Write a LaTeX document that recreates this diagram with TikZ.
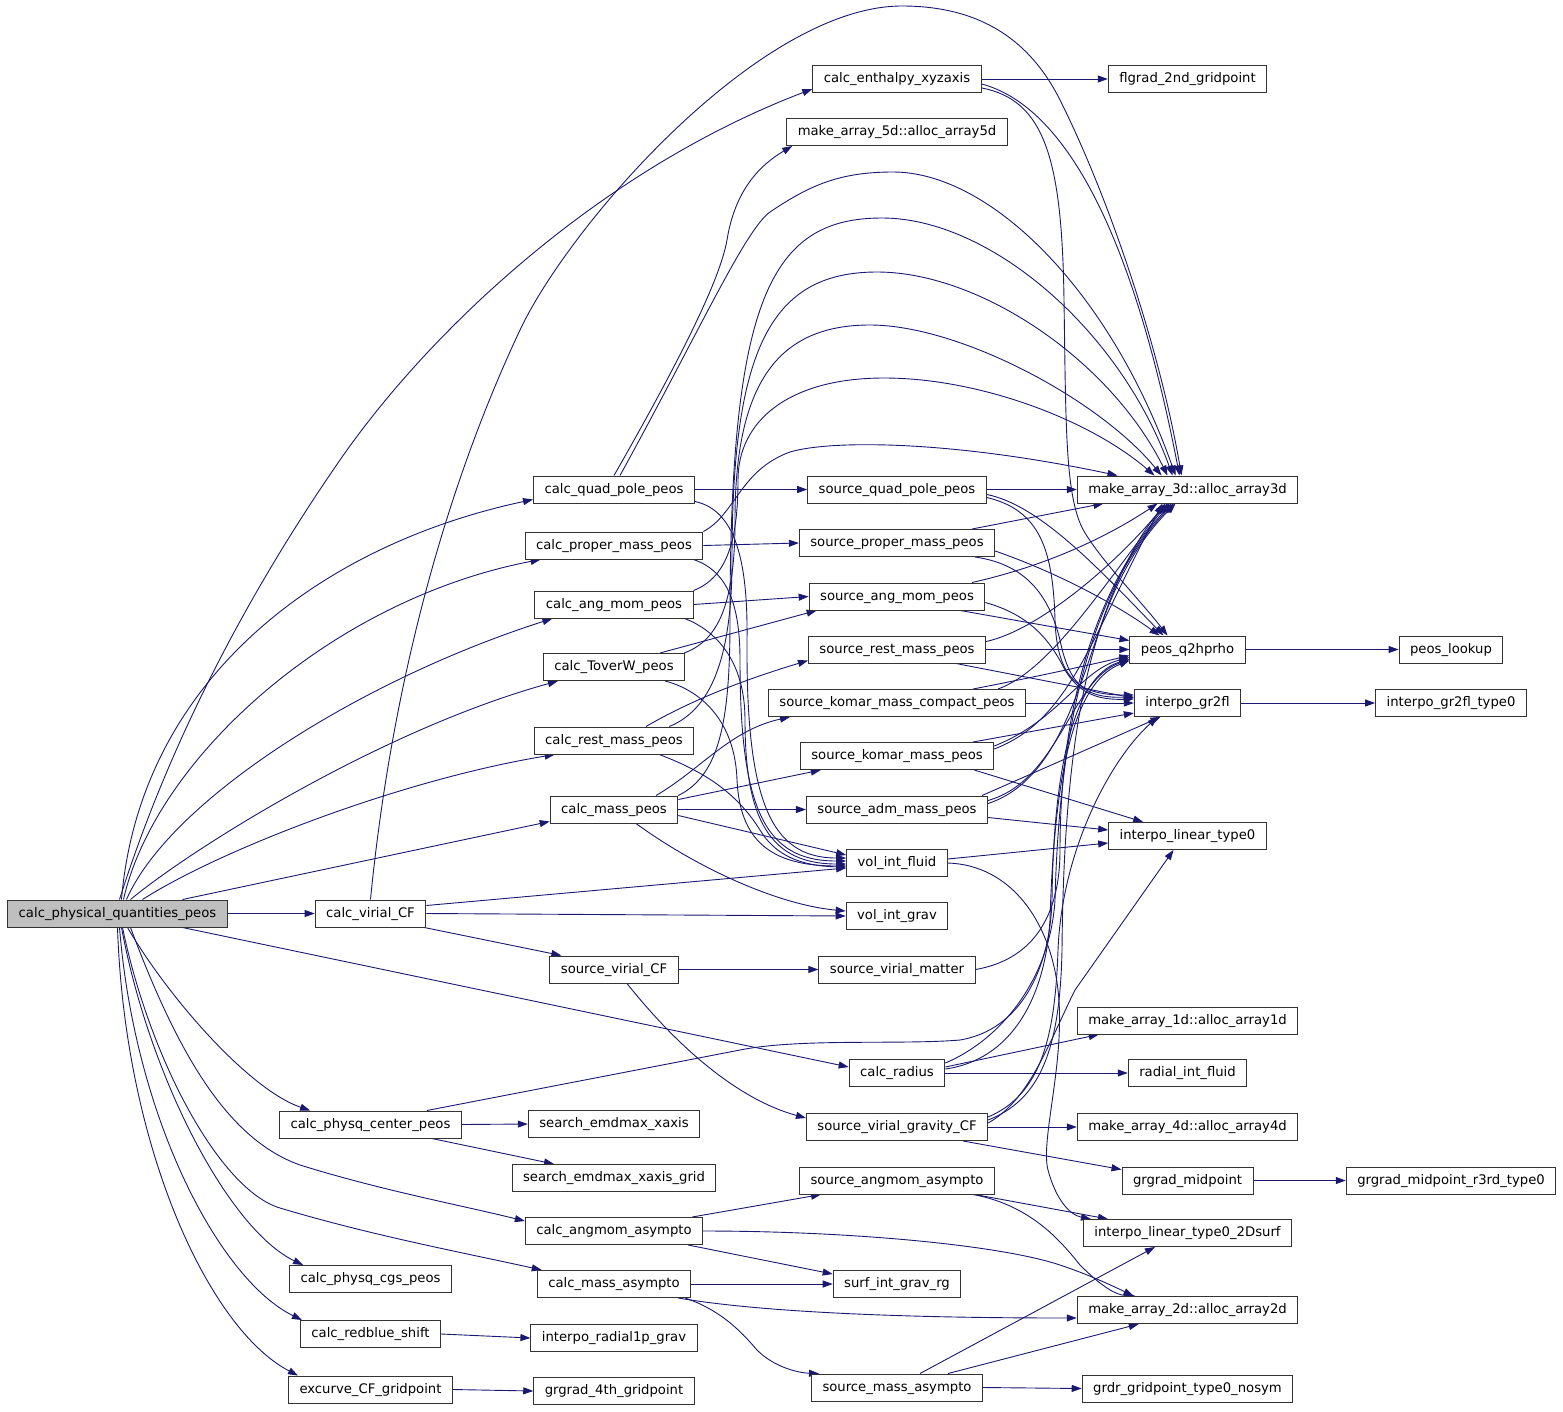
\documentclass[tikz,border=0pt]{standalone}
\usepackage{fontspec}
\setmainfont{DejaVu Sans}
\usetikzlibrary{arrows.meta,calc,backgrounds}
\definecolor{edgec}{HTML}{191970}
\definecolor{boxc}{HTML}{333333}
\definecolor{rootc}{HTML}{BFBFBF}
\begin{document}
\begin{tikzpicture}[x=1pt,y=-1pt,
  fn/.style={draw=boxc, fill=white, line width=1pt, minimum height=27pt, inner xsep=11pt, inner ysep=0pt,
    font=\fontsize{13.2}{15}\selectfont, text height=10pt, text depth=3pt},
  rootn/.style={fn, fill=rootc},
  e/.style={draw=edgec, line width=0.9pt, -{Triangle[length=10pt,width=7pt]}}]
\useasboundingbox (0,0) rectangle (1563,1411);
% column 1
\node[rootn] (root) at (117.5,913.5) {calc\_physical\_quantities\_peos};
% column 2
\node[fn] (virial) at (370.5,913.5) {calc\_virial\_CF};
\node[fn] (physq) at (370.5,1124.5) {calc\_physq\_center\_peos};
\node[fn] (cgs) at (370.5,1279) {calc\_physq\_cgs\_peos};
\node[fn] (redblue) at (370.5,1334) {calc\_redblue\_shift};
\node[fn] (excurve) at (370.5,1389.5) {excurve\_CF\_gridpoint};
% column 3
\node[fn] (quad) at (614,489.5) {calc\_quad\_pole\_peos};
\node[fn] (proper) at (614,545.5) {calc\_proper\_mass\_peos};
\node[fn] (angmom) at (614,604.5) {calc\_ang\_mom\_peos};
\node[fn] (toverw) at (614,667) {calc\_ToverW\_peos};
\node[fn] (rest) at (614,740.5) {calc\_rest\_mass\_peos};
\node[fn] (cmass) at (614,809.5) {calc\_mass\_peos};
\node[fn] (svcf) at (614,969.5) {source\_virial\_CF};
\node[fn] (sex) at (614,1124) {search\_emdmax\_xaxis};
\node[fn] (sexg) at (614,1178) {search\_emdmax\_xaxis\_grid};
\node[fn] (amA) at (614,1231) {calc\_angmom\_asympto};
\node[fn] (mA) at (614,1284) {calc\_mass\_asympto};
\node[fn] (rad1p) at (614,1338) {interpo\_radial1p\_grav};
\node[fn] (gg4) at (614,1391) {grgrad\_4th\_gridpoint};
% column 4
\node[fn] (enth) at (897,79) {calc\_enthalpy\_xyzaxis};
\node[fn] (a5d) at (897,132) {make\_array\_5d::alloc\_array5d};
\node[fn] (squad) at (897,489.5) {source\_quad\_pole\_peos};
\node[fn] (sproper) at (897,543) {source\_proper\_mass\_peos};
\node[fn] (sang) at (897,596.5) {source\_ang\_mom\_peos};
\node[fn] (srest) at (897,649.5) {source\_rest\_mass\_peos};
\node[fn] (skc) at (897,703) {source\_komar\_mass\_compact\_peos};
\node[fn] (sk) at (897,756) {source\_komar\_mass\_peos};
\node[fn] (sadm) at (897,809.5) {source\_adm\_mass\_peos};
\node[fn] (volf) at (897,863) {vol\_int\_fluid};
\node[fn] (volg) at (897,916) {vol\_int\_grav};
\node[fn] (svm) at (897,969.5) {source\_virial\_matter};
\node[fn] (radius) at (897,1073) {calc\_radius};
\node[fn] (svg) at (897,1127) {source\_virial\_gravity\_CF};
\node[fn] (saa) at (897,1180.5) {source\_angmom\_asympto};
\node[fn] (sig) at (897,1284) {surf\_int\_grav\_rg};
\node[fn] (sma) at (897,1387.5) {source\_mass\_asympto};
% column 5
\node[fn] (flg) at (1187.5,79) {flgrad\_2nd\_gridpoint};
\node[fn] (a3d) at (1187.5,489.5) {make\_array\_3d::alloc\_array3d};
\node[fn] (peos) at (1187.5,649.5) {peos\_q2hprho};
\node[fn] (gr2fl) at (1187.5,703) {interpo\_gr2fl};
\node[fn] (ilt) at (1187.5,836) {interpo\_linear\_type0};
\node[fn] (a1d) at (1187.5,1020.5) {make\_array\_1d::alloc\_array1d};
\node[fn] (rif) at (1187.5,1073) {radial\_int\_fluid};
\node[fn] (a4d) at (1187.5,1127) {make\_array\_4d::alloc\_array4d};
\node[fn] (ggm) at (1187.5,1180.5) {grgrad\_midpoint};
\node[fn] (i2d) at (1187.5,1233) {interpo\_linear\_type0\_2Dsurf};
\node[fn] (a2d) at (1187.5,1310) {make\_array\_2d::alloc\_array2d};
\node[fn] (grdr) at (1187.5,1388.5) {grdr\_gridpoint\_type0\_nosym};
% column 6
\node[fn] (plook) at (1451,649.5) {peos\_lookup};
\node[fn] (gr2flt) at (1451,703) {interpo\_gr2fl\_type0};
\node[fn] (ggmr) at (1451,1180.5) {grgrad\_midpoint\_r3rd\_type0};

\begin{scope}[on background layer]
% root fan up
\draw[e] ($(root.north)+(2,0)$) .. controls (170,740) and (250,590) .. (340,460) .. controls (430,330) and (600,170) .. ($(enth.west)+(0,10)$);
\draw[e] ($(root.north)+(4,0)$) .. controls (140,680) and (320,545) .. ($(quad.west)+(0,10)$);
\draw[e] ($(root.north)+(6,0)$) .. controls (155,760) and (330,600) .. ($(proper.south west)+(16,0)$);
\draw[e] ($(root.north)+(9,0)$) .. controls (170,800) and (360,680) .. ($(angmom.south west)+(18,0)$);
\draw[e] ($(root.north)+(13,0)$) .. controls (190,850) and (380,730) .. ($(toverw.south west)+(15,0)$);
\draw[e] ($(root.north)+(25,0)$) .. controls (220,850) and (400,780) .. ($(rest.south west)+(21,0)$);
\draw[e] ($(root.north)+(65,0)$) -- ($(cmass.west)+(0,12)$);
\draw[e] (root.east) -- (virial.west);
% root fan down
\draw[e] ($(root.south)+(65,0)$) -- ($(radius.west)+(0,-6)$);
\draw[e] ($(root.south)+(10,0)$) .. controls (170,1000) and (250,1090) .. ($(physq.north west)+(31,0)$);
\draw[e] ($(root.south)+(13,0)$) .. controls (180,1060) and (230,1140) .. (300,1165) .. controls (380,1190) and (460,1205) .. ($(amA.west)+(0,-10)$);
\draw[e] ($(root.south)+(5,0)$) .. controls (150,1060) and (220,1190) .. (280,1208) .. controls (370,1235) and (460,1252) .. ($(mA.north west)+(5,0)$);
\draw[e] ($(root.south)+(4,0)$) .. controls (150,1080) and (230,1230) .. ($(cgs.north west)+(14,0)$);
\draw[e] ($(root.south)+(2,0)$) .. controls (135,1120) and (220,1280) .. ($(redblue.north west)+(2,0)$);
\draw[e] (root.south) .. controls (125,1150) and (210,1330) .. ($(excurve.north west)+(10,0)$);
% calc_virial_CF
\draw[e] (virial.north) .. controls (390,700) and (440,500) .. (520,330) .. controls (570,224) and (760,6) .. (902,6) .. controls (980,6) and (1030,40) .. (1060,100) .. controls (1110,200) and (1160,350) .. ($(a3d.north)+(-6,0)$);
\draw[e] ($(virial.east)+(0,-8)$) -- ($(volf.west)+(0,5)$);
\draw[e] (virial.east) -- (volg.west);
\draw[e] ($(virial.south east)+(-2,0)$) -- ($(svcf.north west)+(12,0)$);
% calc_enthalpy
\draw[e] (enth.east) -- (flg.west);
\draw[e] ($(enth.east)+(0,5)$) .. controls (1060,105) and (1130,220) .. ($(a3d.north)+(-8,0)$);
\draw[e] ($(enth.east)+(0,9)$) .. controls (1045,100) and (1062,160) .. (1064,300) .. controls (1066,430) and (1065,500) .. (1085,533) .. controls (1105,565) and (1140,600) .. ($(peos.north)+(-20,0)$);
% calc_quad_pole
\draw[e] (quad.east) -- (squad.west);
\draw[e] (quad.north) .. controls (680,360) and (720,280) .. (727,240) .. controls (735,190) and (760,165) .. ($(a5d.south west)+(6,0)$);
\draw[e] ($(quad.north)+(6,0)$) .. controls (700,330) and (745,230) .. (770,212) .. controls (810,185) and (840,172) .. (893,172) .. controls (990,172) and (1110,290) .. ($(a3d.north)+(-12,0)$);
\draw[e] ($(quad.south east)+(0,-2)$) .. controls (735,510) and (748,560) .. (747,640) .. controls (746,800) and (770,858) .. ($(volf.west)+(0,-5)$);
% calc_proper_mass
\draw[e] (proper.east) -- (sproper.west);
\draw[e] ($(proper.south east)+(-10,0)$) .. controls (725,570) and (740,600) .. (740,660) .. controls (740,810) and (765,861) .. ($(volf.west)+(0,-2)$);
\draw[e] (proper.north east) .. controls (735,515) and (740,470) .. (790,452) .. controls (830,440) and (950,440) .. ($(a3d.north)+(-70,0)$);
% calc_ang_mom
\draw[e] (angmom.east) -- (sang.west);
\draw[e] ($(angmom.south east)+(-9,0)$) .. controls (715,630) and (745,660) .. (745,720) .. controls (745,820) and (770,864) .. ($(volf.west)+(0,1)$);
\draw[e] (angmom.north east) .. controls (725,578) and (738,545) .. (738,480) .. controls (738,420) and (790,378) .. (884,378) .. controls (980,378) and (1090,420) .. ($(a3d.north)+(-33,0)$);
% calc_ToverW
\draw[e] ($(toverw.north)+(46,0)$) -- ($(sang.south west)+(8,0)$);
\draw[e] ($(toverw.north east)+(-1,0)$) .. controls (720,640) and (735,600) .. (735,520) .. controls (735,380) and (780,325) .. (870,325) .. controls (960,325) and (1100,400) .. ($(a3d.north)+(-26,0)$);
\draw[e] ($(toverw.south east)+(-20,0)$) .. controls (700,690) and (735,720) .. (737,780) .. controls (740,840) and (770,866) .. ($(volf.west)+(0,3)$);
% calc_rest_mass
\draw[e] ($(rest.north)+(32,0)$) .. controls (700,695) and (760,675) .. ($(srest.west)+(0,11)$);
\draw[e] ($(rest.north east)+(-25,0)$) .. controls (710,710) and (732,660) .. (732,560) .. controls (732,350) and (770,272) .. (877,272) .. controls (980,272) and (1110,360) .. ($(a3d.north)+(-20,0)$);
\draw[e] ($(rest.south east)+(-35,0)$) .. controls (700,770) and (735,790) .. (760,830) .. controls (775,855) and (800,866) .. ($(volf.west)+(0,4)$);
% calc_mass
\draw[e] ($(cmass.north)+(42,0)$) .. controls (700,770) and (730,730) .. ($(skc.south west)+(22,0)$);
\draw[e] (cmass.north east) .. controls (720,775) and (730,720) .. (730,620) .. controls (730,300) and (770,218) .. (882,218) .. controls (990,218) and (1120,330) .. ($(a3d.north)+(-15,0)$);
\draw[e] ($(cmass.east)+(0,-10)$) -- ($(sk.south west)+(21,0)$);
\draw[e] (cmass.east) -- (sadm.west);
\draw[e] ($(cmass.east)+(0,6)$) -- ($(volf.west)+(0,-8)$);
\draw[e] ($(cmass.south)+(22,0)$) .. controls (700,870) and (780,905) .. ($(volg.west)+(0,-5)$);
% source_virial_CF
\draw[e] (svcf.east) -- (svm.west);
\draw[e] ($(svcf.south)+(13,0)$) .. controls (680,1050) and (740,1100) .. ($(svg.west)+(0,-9)$);
% source_quad_pole
\draw[e] (squad.east) -- (a3d.west);
\draw[e] ($(squad.east)+(0,5)$) .. controls (1040,505) and (1100,570) .. ($(peos.north)+(-24,0)$);
\draw[e] ($(squad.east)+(0,8)$) .. controls (1040,510) and (1053,550) .. (1055,620) .. controls (1057,680) and (1080,695) .. ($(gr2fl.west)+(0,-8)$);
% source_proper_mass
\draw[e] ($(sproper.north)+(75,0)$) -- ($(a3d.south)+(-84,0)$);
\draw[e] ($(sproper.east)+(0,8)$) .. controls (1050,570) and (1110,600) .. ($(peos.north)+(-28,0)$);
\draw[e] ($(sproper.south east)+(-20,0)$) .. controls (1030,565) and (1050,600) .. (1060,640) .. controls (1070,690) and (1090,698) .. ($(gr2fl.west)+(0,-6)$);
% source_ang_mom
\draw[e] ($(sang.north)+(75,0)$) .. controls (1050,565) and (1110,535) .. ($(a3d.south)+(-30,0)$);
\draw[e] ($(sang.south east)+(-25,0)$) -- ($(peos.west)+(0,-9)$);
\draw[e] ($(sang.east)+(0,6)$) .. controls (1030,615) and (1050,640) .. (1065,670) .. controls (1080,695) and (1100,700) .. ($(gr2fl.west)+(0,-4)$);
% source_rest_mass
\draw[e] ($(srest.east)+(0,-8)$) .. controls (1040,630) and (1120,560) .. ($(a3d.south)+(-22,0)$);
\draw[e] (srest.east) -- (peos.west);
\draw[e] ($(srest.south east)+(-30,0)$) -- ($(gr2fl.west)+(0,-5)$);
% source_komar_mass_compact
\draw[e] ($(skc.north east)+(-28,0)$) .. controls (1050,670) and (1100,590) .. ($(a3d.south)+(-20,0)$);
\draw[e] ($(skc.north)+(76,0)$) .. controls (1030,678) and (1090,665) .. ($(peos.west)+(0,6)$);
\draw[e] (skc.east) -- (gr2fl.west);
% source_komar_mass
\draw[e] ($(sk.east)+(0,-7)$) .. controls (1070,720) and (1090,640) .. ($(a3d.south)+(-25,0)$);
\draw[e] ($(sk.east)+(0,-10)$) .. controls (1060,720) and (1080,670) .. ($(peos.west)+(0,8)$);
\draw[e] ($(sk.north)+(76,0)$) -- ($(gr2fl.west)+(0,10)$);
\draw[e] ($(sk.south east)+(-20,0)$) -- ($(ilt.north west)+(35,0)$);
% source_adm_mass
\draw[e] ($(sadm.east)+(0,-6)$) .. controls (1060,780) and (1080,680) .. (1110,600) .. controls (1130,550) and (1150,520) .. ($(a3d.south)+(-18,0)$);
\draw[e] ($(sadm.east)+(0,-9)$) .. controls (1060,780) and (1070,680) .. ($(peos.west)+(0,10)$);
\draw[e] ($(sadm.north east)+(-6,0)$) -- ($(gr2fl.south)+(-27,0)$);
\draw[e] ($(sadm.east)+(0,8)$) -- ($(ilt.west)+(0,-6)$);
% vol_int_fluid
\draw[e] ($(volf.east)+(0,-4)$) -- ($(ilt.west)+(0,7)$);
\draw[e] (volf.east) .. controls (1010,865) and (1050,920) .. (1058,990) .. controls (1066,1060) and (1040,1140) .. (1048,1170) .. controls (1056,1200) and (1070,1215) .. ($(i2d.north west)+(8,0)$);
% source_virial_matter
\draw[e] (svm.east) .. controls (1030,960) and (1060,920) .. (1060,850) .. controls (1060,700) and (1100,580) .. ($(a3d.south)+(-16,0)$);
% calc_physq_center
\draw[e] (physq.east) -- (sex.west);
\draw[e] ($(physq.south east)+(-30,0)$) -- ($(sexg.north)+(-60,0)$);
\draw[e] ($(physq.north east)+(-35,0)$) -- (740,1050) .. controls (800,1038) and (900,1045) .. (960,1040) .. controls (1020,1030) and (1050,970) .. (1052,900) .. controls (1054,720) and (1090,670) .. ($(peos.west)+(0,10)$);
% calc_radius
\draw[e] ($(radius.east)+(0,-10)$) .. controls (1000,1040) and (1050,980) .. (1055,900) .. controls (1060,700) and (1100,580) .. ($(a3d.south)+(-14,0)$);
\draw[e] ($(radius.east)+(0,-4)$) .. controls (1010,1060) and (1045,1000) .. (1050,920) .. controls (1055,750) and (1080,680) .. ($(peos.west)+(0,11)$);
\draw[e] ($(radius.east)+(0,-6)$) -- ($(a1d.south west)+(22,0)$);
\draw[e] (radius.east) -- (rif.west);
% source_virial_gravity_CF
\draw[e] ($(svg.east)+(0,-7)$) .. controls (1040,1100) and (1060,1050) .. (1062,950) .. controls (1064,700) and (1100,580) .. ($(a3d.south)+(-12,0)$);
\draw[e] ($(svg.east)+(0,-10)$) .. controls (1040,1095) and (1055,1040) .. (1058,950) .. controls (1062,850) and (1110,760) .. ($(gr2fl.south)+(-30,0)$);
\draw[e] ($(svg.east)+(0,-4)$) .. controls (1030,1100) and (1050,1040) .. (1075,990) -- ($(ilt.south)+(-14,0)$);
\draw[e] (svg.east) -- (a4d.west);
\draw[e] ($(svg.south east)+(-25,0)$) -- ($(ggm.west)+(0,-11)$);
% source_angmom_asympto
\draw[e] ($(saa.south east)+(-20,0)$) -- ($(i2d.north west)+(25,0)$);
\draw[e] ($(saa.south east)+(-22,0)$) .. controls (1030,1205) and (1060,1240) .. (1080,1265) .. controls (1100,1285) and (1115,1295) .. ($(a2d.north)+(-52,0)$);
% calc_angmom_asympto
\draw[e] ($(amA.north east)+(-11,0)$) -- ($(saa.south west)+(22,0)$);
\draw[e] ($(amA.south east)+(-15,0)$) -- ($(sig.west)+(0,-10)$);
\draw[e] (amA.east) .. controls (850,1231) and (1000,1245) .. (1060,1265) .. controls (1090,1275) and (1115,1287) .. ($(a2d.north)+(-54,0)$);
% calc_mass_asympto
\draw[e] (mA.east) -- (sig.west);
\draw[e] ($(mA.south east)+(-13,0)$) .. controls (760,1312) and (900,1318) .. ($(a2d.west)+(0,8)$);
\draw[e] ($(mA.south east)+(-6,0)$) .. controls (720,1310) and (740,1330) .. (757,1350) .. controls (775,1368) and (800,1373) .. ($(sma.north west)+(8,0)$);
% source_mass_asympto
\draw[e] ($(sma.north)+(23,0)$) -- ($(i2d.south west)+(72,0)$);
\draw[e] ($(sma.north east)+(-35,0)$) -- ($(a2d.south west)+(62,0)$);
\draw[e] (sma.east) -- (grdr.west);
% simple ones
\draw[e] (redblue.east) -- (rad1p.west);
\draw[e] (excurve.east) -- (gg4.west);
\draw[e] (peos.east) -- (plook.west);
\draw[e] (gr2fl.east) -- (gr2flt.west);
\draw[e] (ggm.east) -- (ggmr.west);
\end{scope}
\end{tikzpicture}
\end{document}
